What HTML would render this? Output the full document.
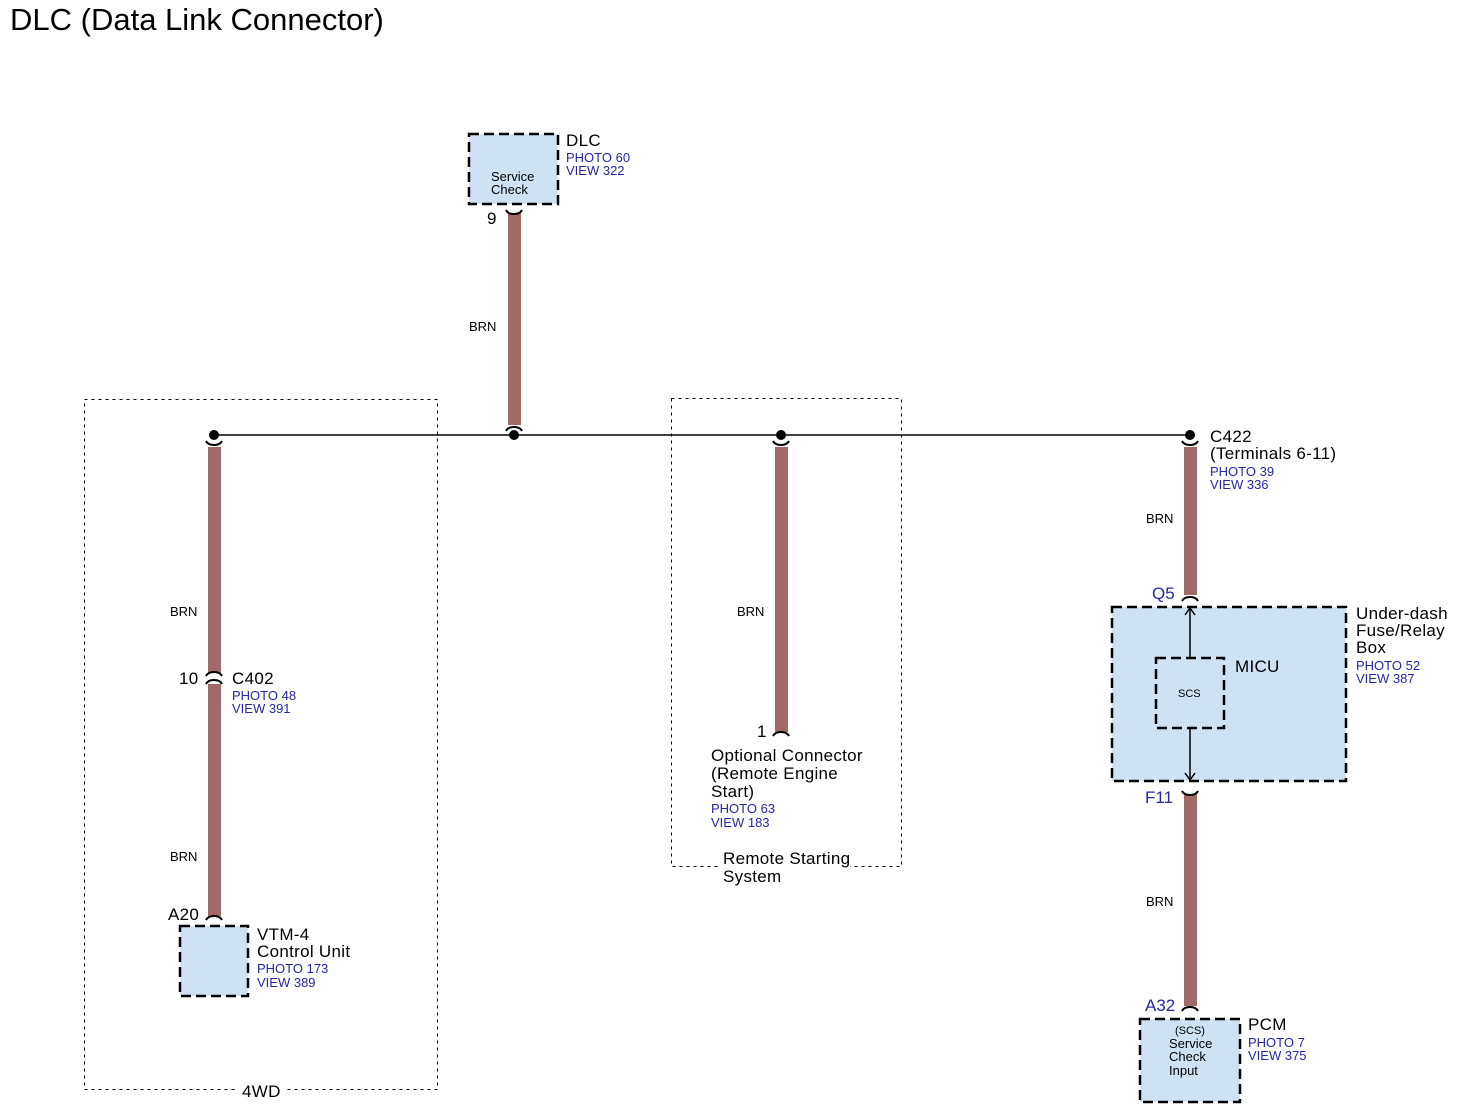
<!DOCTYPE html>
<html><head><meta charset="utf-8"><style>
html,body{margin:0;padding:0;background:#fff}
svg{display:block}
text{font-family:"Liberation Sans",Arial,sans-serif}
.b{fill:#2626a8;font-size:13px}
.k{fill:#000;font-size:17px;letter-spacing:0.3px}
.s{fill:#000;font-size:13px}
</style></head><body>
<svg width="1462" height="1110" viewBox="0 0 1462 1110" xmlns="http://www.w3.org/2000/svg">
<text x="10" y="30" style="font-size:31px" fill="#000">DLC (Data Link Connector)</text>

<rect x="84.5" y="399.5" width="353" height="690" fill="none" stroke="#000" stroke-width="1" stroke-dasharray="3,4"/>
<rect x="671.5" y="398.5" width="230" height="468" fill="none" stroke="#000" stroke-width="1" stroke-dasharray="3,4"/>
<rect x="238" y="1082" width="46" height="16" fill="#fff"/>
<text x="242" y="1097" class="k">4WD</text>
<rect x="720" y="858" width="130" height="30" fill="#fff"/>
<text x="723" y="864" class="k">Remote Starting</text>
<text x="723" y="882" class="k">System</text>

<g fill="#a06a66">
<rect x="508" y="213" width="13" height="212"/>
<rect x="208" y="447" width="13" height="226"/>
<rect x="208" y="684" width="13" height="232"/>
<rect x="775" y="447" width="13" height="285"/>
<rect x="1184" y="447" width="13" height="148"/>
<rect x="1184" y="794" width="13" height="212"/>
</g>

<line x1="214" y1="435" x2="1190" y2="435" stroke="#000" stroke-width="1.5"/>
<g fill="#000">
<circle cx="214" cy="435" r="5"/>
<circle cx="514" cy="435" r="5"/>
<circle cx="781" cy="435" r="5"/>
<circle cx="1190" cy="435" r="5"/>
</g>

<g fill="none" stroke="#000" stroke-width="2">
<path d="M506,210 Q508,214 514,214 Q520,214 522,210"/>
<path d="M206,441 Q208,445 214,445 Q220,445 222,441"/>
<path d="M506,431 Q508,427 514,427 Q520,427 522,431"/>
<path d="M773,441 Q775,445 781,445 Q787,445 789,441"/>
<path d="M1182,441 Q1184,445 1190,445 Q1196,445 1198,441"/>
<path d="M206,676 Q208,672 214,672 Q220,672 222,676"/>
<path d="M206,684 Q208,680 214,680 Q220,680 222,684"/>
<path d="M206,920 Q208,916 214,916 Q220,916 222,920"/>
<path d="M773,736 Q775,732 781,732 Q787,732 789,736"/>
<path d="M1182,601 Q1184,597 1190,597 Q1196,597 1198,601"/>
<path d="M1182,791 Q1184,795 1190,795 Q1196,795 1198,791"/>
<path d="M1182,1011 Q1184,1007 1190,1007 Q1196,1007 1198,1011"/>
</g>

<g fill="#cfe2f3" stroke="#000" stroke-width="2.5" stroke-dasharray="10,5">
<rect x="469" y="134" width="89" height="70"/>
<rect x="180" y="926" width="68" height="70"/>
<rect x="1112" y="607" width="234" height="174"/>
<rect x="1140" y="1019" width="100" height="83"/>
</g>
<rect x="1156" y="658" width="68" height="70" fill="none" stroke="#000" stroke-width="2.5" stroke-dasharray="10,5"/>

<g stroke="#000" stroke-width="1.5" fill="none">
<line x1="1190" y1="658" x2="1190" y2="608"/>
<path d="M1185,615 L1190,608 L1195,615"/>
<line x1="1190" y1="728" x2="1190" y2="780"/>
<path d="M1185,773 L1190,780 L1195,773"/>
</g>

<text x="491" y="181" class="s">Service</text>
<text x="491" y="194" class="s">Check</text>
<text x="566" y="146" class="k">DLC</text>
<text x="566" y="162" class="b">PHOTO 60</text>
<text x="566" y="175" class="b">VIEW 322</text>
<text x="487" y="224" class="k">9</text>
<text x="469" y="331" class="s">BRN</text>

<text x="170" y="616" class="s">BRN</text>
<text x="179" y="684" class="k">10</text>
<text x="232" y="684" class="k">C402</text>
<text x="232" y="700" class="b">PHOTO 48</text>
<text x="232" y="713" class="b">VIEW 391</text>
<text x="170" y="861" class="s">BRN</text>
<text x="168" y="920" class="k">A20</text>
<text x="257" y="940" class="k">VTM-4</text>
<text x="257" y="957" class="k">Control Unit</text>
<text x="257" y="973" class="b">PHOTO 173</text>
<text x="257" y="987" class="b">VIEW 389</text>

<text x="737" y="616" class="s">BRN</text>
<text x="757" y="737" class="k">1</text>
<text x="711" y="761" class="k">Optional Connector</text>
<text x="711" y="779" class="k">(Remote Engine</text>
<text x="711" y="797" class="k">Start)</text>
<text x="711" y="813" class="b">PHOTO 63</text>
<text x="711" y="827" class="b">VIEW 183</text>

<text x="1210" y="442" class="k">C422</text>
<text x="1210" y="459" class="k">(Terminals 6-11)</text>
<text x="1210" y="476" class="b">PHOTO 39</text>
<text x="1210" y="489" class="b">VIEW 336</text>
<text x="1146" y="523" class="s">BRN</text>
<text x="1152" y="599" style="font-size:17px;fill:#2626a8">Q5</text>
<text x="1356" y="619" class="k">Under-dash</text>
<text x="1356" y="636" class="k">Fuse/Relay</text>
<text x="1356" y="653" class="k">Box</text>
<text x="1356" y="670" class="b">PHOTO 52</text>
<text x="1356" y="683" class="b">VIEW 387</text>
<text x="1235" y="672" class="k">MICU</text>
<text x="1178" y="697" style="font-size:11px" fill="#000">SCS</text>
<text x="1145" y="803" style="font-size:17px;fill:#2626a8">F11</text>
<text x="1146" y="906" class="s">BRN</text>
<text x="1145" y="1011" style="font-size:17px;fill:#2626a8">A32</text>
<text x="1175" y="1034" style="font-size:11px" fill="#000">(SCS)</text>
<text x="1169" y="1048" class="s">Service</text>
<text x="1169" y="1061" class="s">Check</text>
<text x="1169" y="1075" class="s">Input</text>
<text x="1248" y="1030" class="k">PCM</text>
<text x="1248" y="1047" class="b">PHOTO 7</text>
<text x="1248" y="1060" class="b">VIEW 375</text>
</svg>
</body></html>
